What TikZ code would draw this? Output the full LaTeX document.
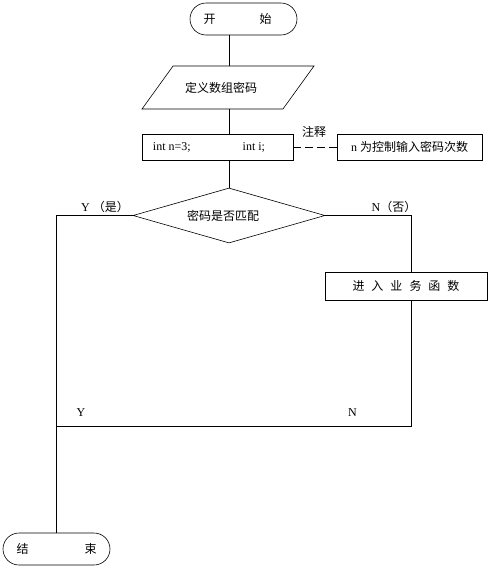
\documentclass[tikz,border=0pt]{standalone}
\usepackage{fontspec}
\setmainfont{Liberation Serif}
\newfontfamily\cjk{Noto Sans CJK SC}
\usetikzlibrary{shapes.geometric,shapes.misc}
\definecolor{LineClr}{rgb}{0,0,0}

\tikzset{
  terminal/.style={draw=LineClr,rounded rectangle,minimum width=107pt,minimum height=32pt,inner sep=0pt},
  iobox/.style={draw=LineClr,trapezium,trapezium left angle=53,trapezium right angle=127,
    trapezium stretches body,minimum width=172pt,minimum height=43pt,inner xsep=0pt,inner ysep=15pt},
  procbox/.style={draw=LineClr,rectangle,minimum height=26pt,inner sep=0pt},
  decision/.style={draw=LineClr,diamond,shape aspect=3.49,minimum width=192pt,minimum height=55pt,inner sep=0pt},
  link/.style={draw=LineClr},
  notelink/.style={draw=LineClr,dash pattern=on 8pt off 4pt}
}

\begin{document}
\begin{tikzpicture}[x=1pt,y=-1pt,font=\fontsize{12}{14}\selectfont,line width=0.6pt]
\useasboundingbox (0,0) rectangle (489,568);

\node[terminal] (start) at (243.5,19) {\cjk 开\hspace{44pt}始\hspace{12pt}\mbox{}};
\node[iobox] (arr) at (228,87.5) {\cjk 定义数组密码\hspace{14pt}\mbox{}};
\node[procbox,minimum width=151pt] (vars) at (217.5,147) {int n=3;\hspace{52pt}int i;\hspace{17pt}\mbox{}};
\node[procbox,minimum width=145pt] (note) at (409.5,147) {n {\cjk 为控制输入密码次数}};
\node (notelbl) at (314,132) {\cjk 注释};
\node[decision] (check) at (229,215.5) {\cjk 密码是否匹配\hspace{12pt}\mbox{}};
\node[procbox,minimum width=162pt,minimum height=28pt] (biz) at (406,286)
  {\cjk 进\hspace{7pt}入\hspace{7pt}业\hspace{7pt}务\hspace{7pt}函\hspace{7pt}数};
\node[terminal] (stop) at (56.5,549) {\cjk 结\hspace{56pt}束};

\coordinate (nturn) at (411,215.5);
\coordinate (njoin) at (411,426);
\coordinate (yjoin) at (57,426);

\draw[link] (start.south -| check.north) -- (arr.north -| check.north);
\draw[link] (arr.south -| check.north) -- (vars.north -| check.north);
\draw[link] (vars.south -| check.north) -- (check.north);
\draw[notelink] (vars.east) -- (note.west);
\draw[link] (check.west) -| (stop.north);
\draw[link] (check.east) -- (nturn) -- (nturn |- biz.north);
\draw[link] (nturn |- biz.south) -- (njoin) -- (yjoin);

\node (ylbl) at (105,207) {Y {\cjk （是）}};
\node (nlbl) at (394,207) {N{\cjk （否）}};
\node (ybot) at (81,413) {Y};
\node (nbot) at (352.5,413) {N};

\end{tikzpicture}
\end{document}
